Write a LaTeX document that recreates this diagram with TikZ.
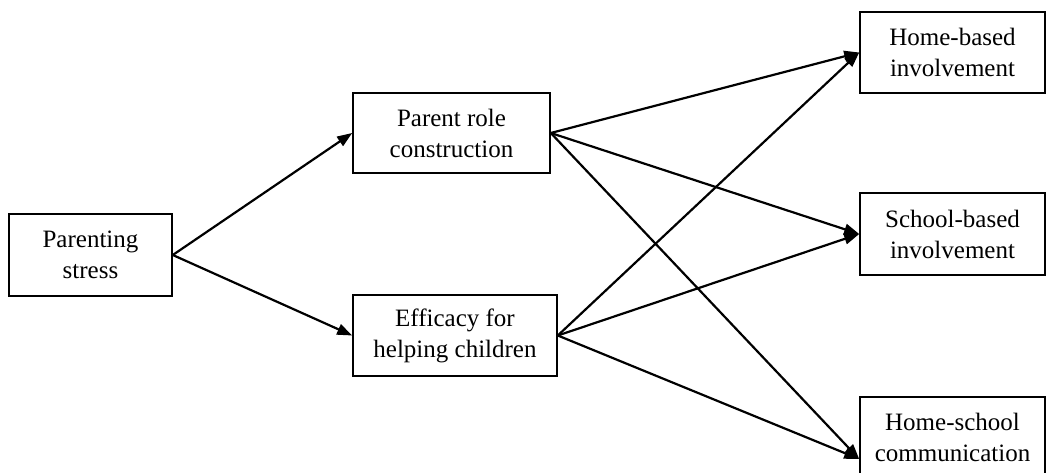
\documentclass[tikz,border=0pt]{standalone}
\usepackage{fontspec}
\setmainfont{Liberation Serif}
\usetikzlibrary{arrows.meta}

\begin{document}
\begin{tikzpicture}[x=1pt,y=-1pt,align=center,
  cbox/.style={rectangle,draw=black,line width=1.6pt,inner sep=0pt,font=\fontsize{25}{31}\selectfont},
  path/.style={line width=2.2pt,-{Triangle[length=15pt,width=11pt]}}]
	\useasboundingbox (0,0) rectangle (1047,473);
	\node[cbox,minimum width=163pt,minimum height=82pt] (ps) at (90.5,255) {Parenting\\stress};
	\node[cbox,minimum width=197pt,minimum height=80pt] (prc) at (451.5,133) {Parent role\\construction};
	\node[cbox,minimum width=204pt,minimum height=81pt] (eff) at (455,335.5) {Efficacy for\\helping children};
	\node[cbox,minimum width=185pt,minimum height=81pt] (hbi) at (952.5,52.5) {Home-based\\involvement};
	\node[cbox,minimum width=185pt,minimum height=82pt] (sbi) at (952.5,234) {School-based\\involvement};
	\node[cbox,minimum width=185pt,minimum height=80pt] (hsc) at (952.5,437) {Home-school\\communication};
	\coordinate (hscin) at ([yshift=-22pt]hsc.west);
	\draw[path] (ps.east) -- (prc.west);
	\draw[path] (ps.east) -- (eff.west);
	\draw[path] (prc.east) -- (hbi.west);
	\draw[path] (prc.east) -- (sbi.west);
	\draw[path] (prc.east) -- (hscin);
	\draw[path] (eff.east) -- (hbi.west);
	\draw[path] (eff.east) -- (sbi.west);
	\draw[path] (eff.east) -- (hscin);
\end{tikzpicture}
\end{document}
